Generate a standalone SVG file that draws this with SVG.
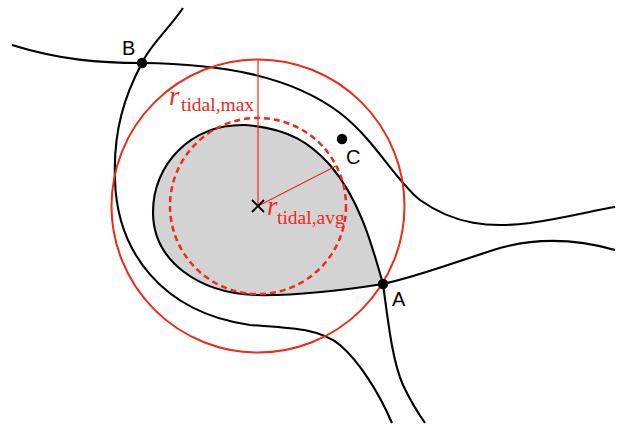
<svg xmlns="http://www.w3.org/2000/svg" width="623" height="424" viewBox="0 0 623 424">
<style>
.curve{fill:none;stroke:#000;stroke-width:2.1}
.red{fill:none;stroke:#ee2a1a;stroke-width:2}
.redthin{fill:none;stroke:#ee2a1a;stroke-width:1.2}
.dash{fill:none;stroke:#ee2a1a;stroke-width:2.5;stroke-dasharray:6 4}
.dot{fill:#000}
.lbl{font-family:"Liberation Sans",Arial,sans-serif;font-size:20px;fill:#000}
.rl{font-family:"Liberation Serif","Times New Roman",serif;fill:#ee2a1a}
.ri{font-style:italic;font-size:27px}
.rs{font-size:19.5px}
</style>
<rect width="623" height="424" fill="#fff"/>
<g id="lobe">
<path d="M383,284 C372,245 360,200 330,165 C312,145 290,128 245,125 C190,124 153,165 153,212 C153,262 200,293 255,295 C300,296 345,290 383,284 Z" fill="#d3d3d3" stroke="#000" stroke-width="2.1"/>
</g>
<g id="connectors">
<path class="curve" d="M12,45 C60,60 100,63 142,63 C220,64 290,75 340,113 C375,140 395,180 420,200 C455,225 490,228 530,223 C570,217 595,210 615,207"/>
<path class="curve" d="M183,8 C168,30 150,45 142,63 C125,95 113,130 115,180 C117,250 160,312 250,325 C290,328 320,328 340,345 C360,362 380,395 392,423"/>
<path class="curve" d="M383,284 C420,276 455,262 500,248 C540,237 580,240 615,250"/>
<path class="curve" d="M383,284 C388,320 392,360 403,385 C410,400 418,413 425,423"/>
</g>
<g id="tidal-max">
<circle class="red" cx="258" cy="206" r="146.5"/>
<line class="redthin" x1="258" y1="206" x2="258" y2="59.5"/>
<text class="rl"><tspan class="ri" x="169" y="105">r</tspan><tspan class="rs" x="181" y="111">tidal,max</tspan></text>
</g>
<g id="tidal-avg">
<circle class="dash" cx="258" cy="206" r="88"/>
<line class="redthin" x1="258" y1="206" x2="336" y2="166"/>
<text class="rl"><tspan class="ri" x="267" y="215">r</tspan><tspan class="rs" x="277" y="224">tidal,avg</tspan></text>
</g>
<g id="center">
<path d="M252,200 L264,212 M264,200 L252,212" stroke="#000" stroke-width="1.8"/>
</g>
<g id="A">
<circle class="dot" cx="383" cy="284" r="5.2"/>
<text class="lbl" x="392" y="306">A</text>
</g>
<g id="B">
<circle class="dot" cx="142" cy="63" r="5.2"/>
<text class="lbl" x="122" y="55">B</text>
</g>
<g id="C">
<circle class="dot" cx="342" cy="139" r="5.2"/>
<text class="lbl" x="346" y="164">C</text>
</g>
</svg>
